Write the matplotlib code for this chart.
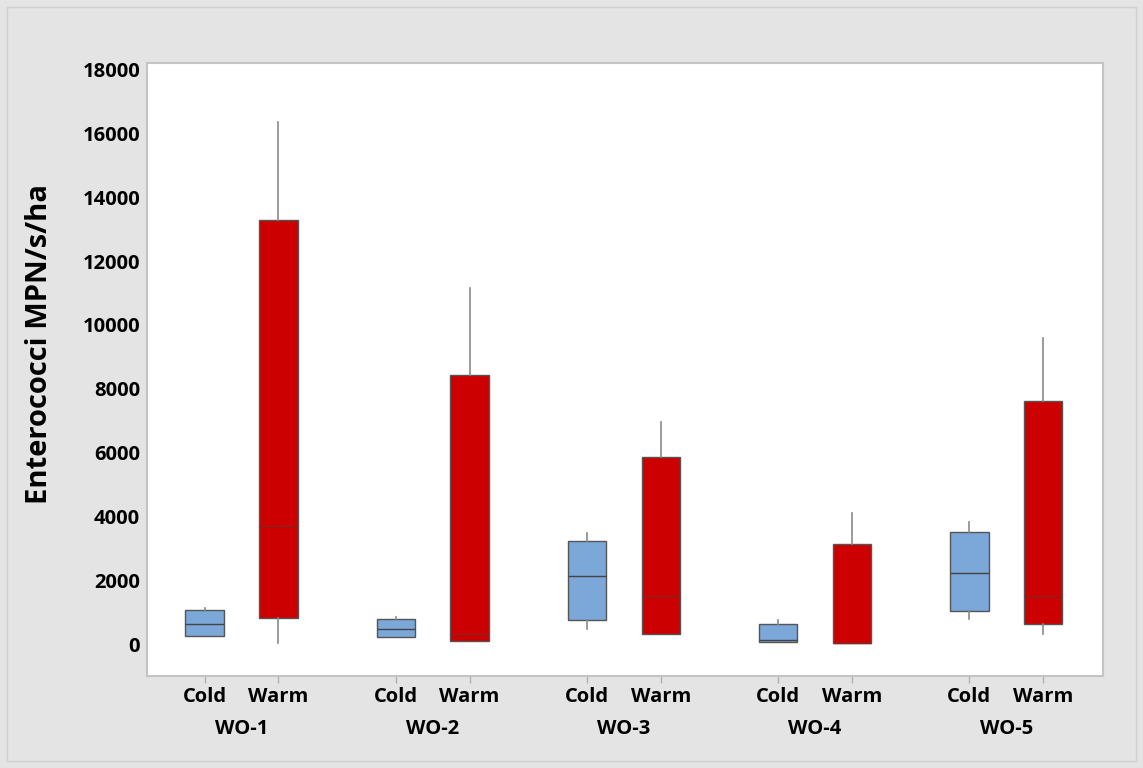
import matplotlib.pyplot as plt
from matplotlib.patches import Rectangle
from matplotlib.transforms import blended_transform_factory

plt.rcParams['font.family'] = ['Open Sans', 'DejaVu Sans']

groups = ['WO-1', 'WO-2', 'WO-3', 'WO-4', 'WO-5']
seasons = ['Cold', 'Warm']

# (whisker low, Q1, median, Q3, whisker high)
cold_low = [250, 220, 470, 60, 780]
cold_q1 = [250, 220, 750, 60, 1030]
cold_med = [630, 470, 2130, 120, 2220]
cold_q3 = [1060, 780, 3230, 620, 3510]
cold_high = [1130, 850, 3480, 750, 3820]

warm_low = [30, 100, 310, 30, 310]
warm_q1 = [815, 100, 310, 30, 620]
warm_med = [3700, 310, 1500, 30, 1500]
warm_q3 = [13290, 8430, 5860, 3130, 7610]
warm_high = [16360, 11150, 6960, 4100, 9600]

cold_color = '#7ba7d9'
warm_color = '#cc0000'

fig = plt.figure(figsize=(11.43, 7.68), dpi=100, facecolor='#e4e4e4')
fig.patches.append(Rectangle((0.006, 0.009), 0.988, 0.982, transform=fig.transFigure,
                             fill=False, edgecolor='#cfcfcf', lw=1))
ax = fig.add_axes([0.1286, 0.1198, 0.8364, 0.798])

spacing = 2.59
stats, positions, colors = [], [], []
for i, g in enumerate(groups):
    stats.append(dict(whislo=cold_low[i], q1=cold_q1[i], med=cold_med[i],
                      q3=cold_q3[i], whishi=cold_high[i], fliers=[]))
    positions.append(i * spacing)
    colors.append(cold_color)
    stats.append(dict(whislo=warm_low[i], q1=warm_q1[i], med=warm_med[i],
                      q3=warm_q3[i], whishi=warm_high[i], fliers=[]))
    positions.append(i * spacing + 1)
    colors.append(warm_color)

bp = ax.bxp(stats, positions=positions, widths=0.52, patch_artist=True,
            showcaps=False, showfliers=False,
            boxprops=dict(edgecolor='#555555', linewidth=1.0),
            whiskerprops=dict(color='#8a8a8a', linewidth=1.2),
            medianprops=dict(color='#555555', linewidth=1.0))
for box, c in zip(bp['boxes'], colors):
    box.set_facecolor(c)
for med, c in zip(bp['medians'], colors):
    med.set_color('#444444' if c == cold_color else '#8b2222')

ax.set_xlim(-0.78, 4 * spacing + 1 + 0.81)
ax.set_ylim(-1000, 18200)
ax.set_yticks(range(0, 18001, 2000))
ax.set_xticks(positions)
ax.set_xticklabels(seasons * len(groups))
ax.tick_params(axis='x', colors='#b0b0b0', length=5, width=1, labelcolor='black',
               labelsize=14.5, pad=3)
ax.tick_params(axis='y', length=0, labelsize=14.5, pad=5)
for lab in ax.get_xticklabels() + ax.get_yticklabels():
    lab.set_fontweight('bold')
for s in ax.spines.values():
    s.set_color('#c4c4c4')
    s.set_linewidth(1.5)

trans = blended_transform_factory(ax.transData, ax.transAxes)
for i, g in enumerate(groups):
    ax.text(i * spacing + 0.5, -0.086, g, transform=trans, ha='center', va='center',
            fontsize=14.5, fontweight='bold')

ax.set_ylabel('Enterococci MPN/s/ha', fontsize=21, fontweight='bold')
ax.yaxis.set_label_coords(-0.097, 0.542)

fig.savefig('out.png', dpi=100, facecolor=fig.get_facecolor())
